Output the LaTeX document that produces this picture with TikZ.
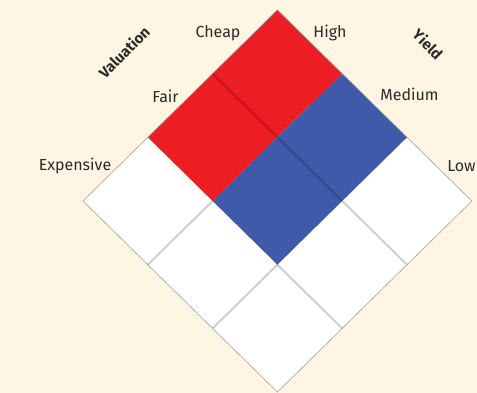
\documentclass[tikz,border=0pt]{standalone}
\usepackage{fontspec}
\setmainfont{Fira Sans}
\definecolor{cream}{RGB}{254,246,227}
\definecolor{cellred}{RGB}{237,29,36}
\definecolor{cellblue}{RGB}{63,90,169}
\definecolor{labeltext}{RGB}{43,43,43}
\definecolor{rim}{RGB}{160,160,160}
\begin{document}
\begin{tikzpicture}[
  lbl/.style={font=\fontsize{16}{19}\selectfont, text=labeltext, inner sep=0pt, anchor=base},
  axis/.style={font=\bfseries\fontsize{15}{18}\selectfont, text=labeltext, inner sep=0pt},
  gridline/.style={line width=1.8pt, black, opacity=0.2, line cap=butt},
  outline/.style={draw=rim, line width=0.6pt, line join=miter}
]
\useasboundingbox (0,0) rectangle (477pt,393pt);
\fill[cream] (0,0) rectangle (477pt,393pt);

% the 3x3 grid, turned by 45 degrees: i runs towards the top corner, j towards the bottom corner
\begin{scope}[shift={(83pt,192pt)}, x={(64.8pt,63.7pt)}, y={(64.8pt,-63.7pt)}]
  \fill[white] (0,0) -- (3,0) -- (3,3) -- (0,3) -- cycle;
  \fill[cellred] (1,0) -- (3,0) -- (3,1) -- (1,1) -- cycle;
  \fill[cellblue] (1,1) -- (3,1) -- (3,2) -- (1,2) -- cycle;
  \draw[gridline] (2,0) -- (2,3);
  \draw[gridline] (1,2) -- (1,3);
  \draw[gridline] (0,1) -- (1,1);
  \draw[gridline] (0,2) -- (1,2);
  \draw[outline] (0,0) -- (3,0) -- (3,3) -- (0,3) -- cycle;
\end{scope}

% valuation scale
\node[lbl] (cheap) at (218pt,355pt) {Cheap};
\node[lbl] (fair) at (165.5pt,290pt) {Fair};
\node[lbl] (expensive) at (75pt,222pt) {Expensive};
\node[axis, rotate=45] (valuation) at (124pt,341pt) {Valuation};

% yield scale
\node[lbl] (high) at (330pt,355pt) {High};
\node[lbl] (medium) at (409.5pt,292pt) {Medium};
\node[lbl] (low) at (461.5pt,221pt) {Low};
\node[axis, rotate=-45] (yield) at (428pt,349pt) {Yield};
\end{tikzpicture}
\end{document}
